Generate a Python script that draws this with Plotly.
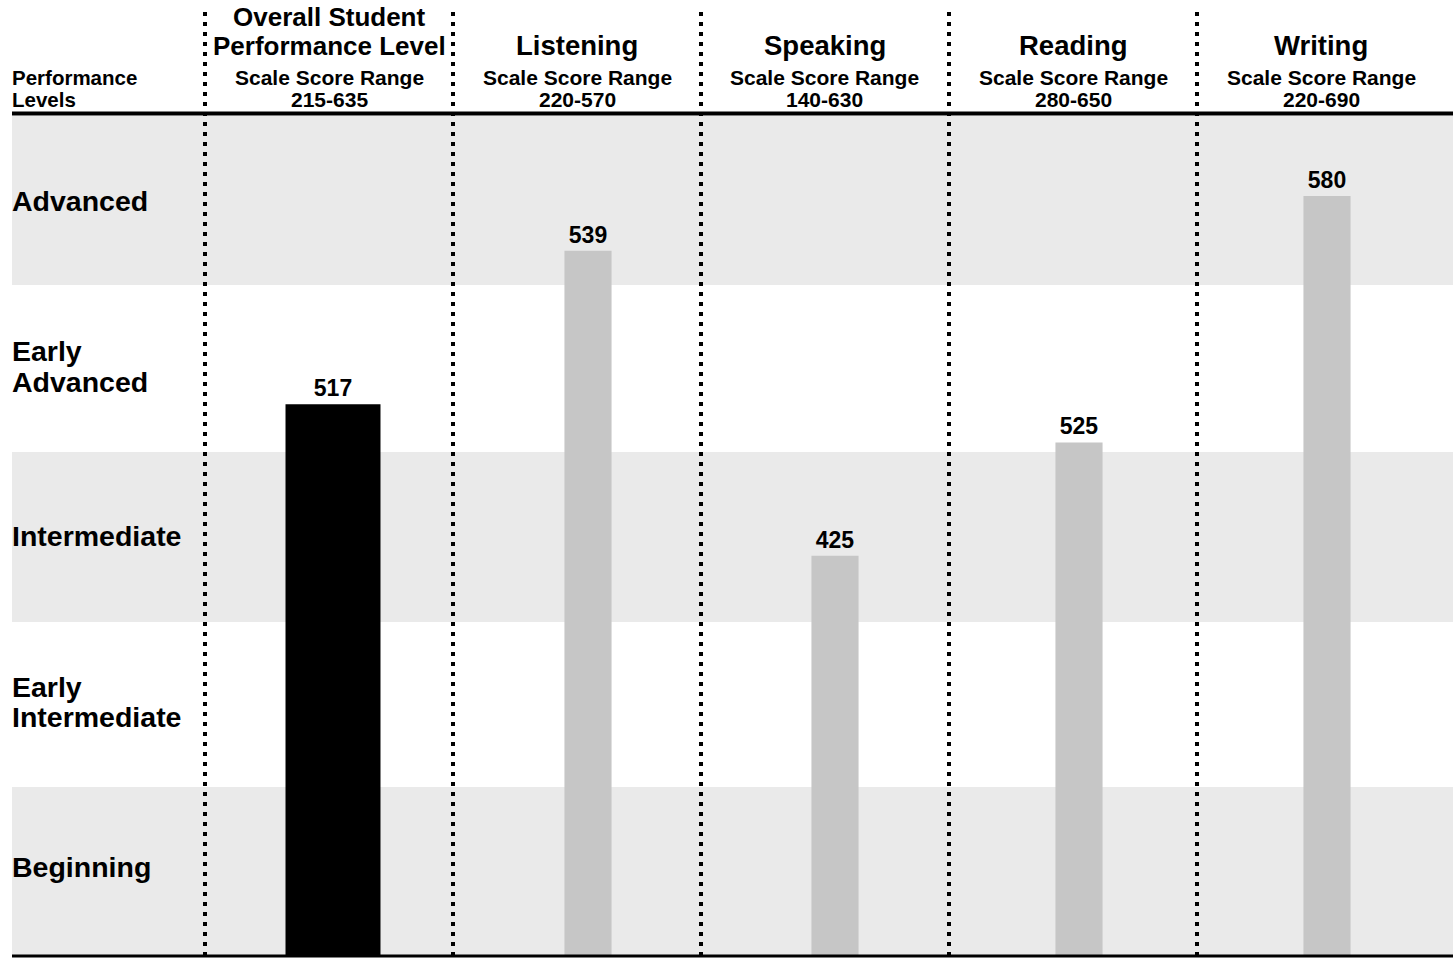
import plotly.graph_objects as go

# ---- data ----
domains = ["Overall Student Performance Level", "Listening", "Speaking", "Reading", "Writing"]
header_lines = [["Overall Student", "Performance Level"], ["Listening"], ["Speaking"], ["Reading"], ["Writing"]]
score_ranges = ["215-635", "220-570", "140-630", "280-650", "220-690"]
scale_min = [215, 220, 140, 280, 220]
scores = [517, 539, 425, 525, 580]
levels = ["Advanced", "Early<br>Advanced", "Intermediate", "Early<br>Intermediate", "Beginning"]

# ---- layout constants (pixels of a 1453 x 958 canvas) ----
W, H = 1453, 958
FONT = "Liberation Sans, Arial, Helvetica, sans-serif"
col_edges = [205, 453, 701, 949, 1197, 1445]
bar_shift = [4, 11, 10, 6, 6]
left_edge = 12
plot_top, plot_bottom = 116, 955
band_edges = [116, 285, 452, 622, 787, 955]
axis_top = [675, 600, 739, 681, 618]        # upper end of each column's score axis
bar_widths = [0.383, 0.19, 0.19, 0.19, 0.19]
bar_colors = ["#000000", "#c6c6c6", "#c6c6c6", "#c6c6c6", "#c6c6c6"]
band_gray = "#eaeaea"


def px(x):
    return x / W


def py(y):
    return 1 - y / H


fig = go.Figure()
layout = dict(
    width=W, height=H,
    margin=dict(l=0, r=0, t=0, b=0),
    paper_bgcolor="white", plot_bgcolor="rgba(0,0,0,0)",
    showlegend=False,
    shapes=[], annotations=[],
)

for i, (name, val) in enumerate(zip(domains, scores)):
    sfx = "" if i == 0 else str(i + 1)
    fig.add_trace(go.Bar(
        x=[0], y=[val], name=name,
        xaxis="x" + sfx, yaxis="y" + sfx,
        width=bar_widths[i],
        marker=dict(color=bar_colors[i], line=dict(width=0)),
        text=[str(val)], textposition="outside",
        textfont=dict(family=FONT, size=23, color="black", weight="bold"),
        hoverinfo="skip",
    ))
    x0, x1 = col_edges[i] + bar_shift[i], col_edges[i + 1] + bar_shift[i]
    layout["xaxis" + sfx] = dict(
        domain=[px(x0), px(x1)], range=[-0.5, 0.5],
        anchor="y" + sfx, visible=False, fixedrange=True,
    )
    layout["yaxis" + sfx] = dict(
        domain=[py(plot_bottom), py(plot_top)],
        range=[scale_min[i], axis_top[i]],
        anchor="x" + sfx, visible=False, fixedrange=True,
    )

# shaded performance-level bands
for k in range(0, len(band_edges) - 1, 2):
    layout["shapes"].append(dict(
        type="rect", xref="paper", yref="paper", layer="below",
        x0=px(left_edge), x1=1, y0=py(band_edges[k + 1]), y1=py(band_edges[k]),
        fillcolor=band_gray, line=dict(width=0),
    ))

# header rule and baseline
layout["shapes"].append(dict(
    type="line", xref="paper", yref="paper",
    x0=px(left_edge), x1=1, y0=py(113.5), y1=py(113.5),
    line=dict(color="black", width=4),
))
layout["shapes"].append(dict(
    type="line", xref="paper", yref="paper",
    x0=px(left_edge), x1=1, y0=py(956), y1=py(956),
    line=dict(color="black", width=3),
))

# dotted column separators
for x in col_edges[:-1]:
    layout["shapes"].append(dict(
        type="line", xref="paper", yref="paper",
        x0=px(x), x1=px(x), y0=py(956), y1=py(8),
        line=dict(color="black", width=4, dash="4px,6px"),
    ))


def note(text, x, y, size, xanchor="center"):
    layout["annotations"].append(dict(
        x=px(x), y=py(y), xref="paper", yref="paper",
        text="<b>" + text + "</b>", showarrow=False,
        xanchor=xanchor, yanchor="middle", align="left",
        borderpad=0,
        font=dict(family=FONT, size=size, color="black"),
    ))


# column headers
for i in range(len(domains)):
    cx = (col_edges[i] + col_edges[i + 1]) / 2
    lines = header_lines[i]
    if len(lines) == 2:
        ys, size = [17, 46], 26
    else:
        ys, size = [46], 27.5
    for t, y in zip(lines, ys):
        note(t, cx, y, size)
    note("Scale Score Range", cx, 77, 21)
    note(score_ranges[i], cx, 99, 21)

# left-hand header
note("Performance", left_edge - 1, 77, 20.5, "left")
note("Levels", left_edge - 1, 99, 20.5, "left")

# performance-level row labels
label_y = [[201], [351, 382], [536], [687, 717], [867]]
for lab, ys in zip(levels, label_y):
    for t, y in zip(lab.split("<br>"), ys):
        note(t, left_edge - 1, y, 28.5, "left")

fig.update_layout(**layout)
fig.write_html("out.html")
